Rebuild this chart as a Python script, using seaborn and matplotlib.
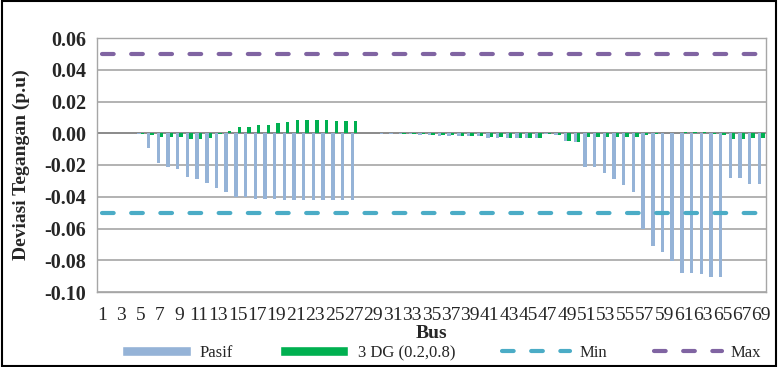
import numpy as np
import pandas as pd
import matplotlib
matplotlib.use('Agg')
from matplotlib import pyplot as plt
from matplotlib.patches import Patch, Rectangle
from matplotlib.lines import Line2D
import seaborn as sns

# data (deviation in p.u per bus)
buses = list(range(1, 70))
pasif = [
    0.0000, 0.0000, 0.0000, -0.0001, -0.0007, -0.0095, -0.0188, -0.0212, -0.0224, -0.0275,
    -0.0286, -0.0313, -0.0343, -0.0370, -0.0400, -0.0402, -0.0413, -0.0415, -0.0417, -0.0419,
    -0.0421, -0.0421, -0.0423, -0.0423, -0.0423, -0.0423, -0.0423, -0.0001, -0.0001, -0.0002,
    -0.0002, -0.0003, -0.0007, -0.0009, -0.0010, -0.0016, -0.0017, -0.0018, -0.0018, -0.0019,
    -0.0028, -0.0030, -0.0031, -0.0031, -0.0032, -0.0032, -0.0002, -0.0013, -0.0047, -0.0053,
    -0.0212, -0.0212, -0.0250, -0.0286, -0.0328, -0.0370, -0.0600, -0.0709, -0.0751, -0.0802,
    -0.0878, -0.0882, -0.0887, -0.0904, -0.0908, -0.0284, -0.0284, -0.0317, -0.0317,
]
dg3 = [
    0.0000, 0.0000, 0.0000, 0.0000, -0.0002, -0.0013, -0.0021, -0.0025, -0.0025, -0.0036,
    -0.0037, -0.0031, -0.0007, 0.0013, 0.0038, 0.0042, 0.0052, 0.0053, 0.0063, 0.0072,
    0.0084, 0.0084, 0.0083, 0.0082, 0.0080, 0.0080, 0.0080, 0.0000, 0.0000, -0.0001,
    -0.0001, -0.0002, -0.0005, -0.0007, -0.0008, -0.0013, -0.0014, -0.0015, -0.0015, -0.0016,
    -0.0024, -0.0026, -0.0027, -0.0027, -0.0028, -0.0028, -0.0002, -0.0012, -0.0050, -0.0057,
    -0.0025, -0.0025, -0.0025, -0.0025, -0.0025, -0.0021, -0.0011, -0.0006, -0.0001, 0.0002,
    0.0005, 0.0007, 0.0005, -0.0004, -0.0011, -0.0036, -0.0036, -0.0031, -0.0031,
]
v_min = -0.05
v_max = 0.05
y_ticks = [0.06, 0.04, 0.02, 0.00, -0.02, -0.04, -0.06, -0.08, -0.10]
x_labels = [str(b) for b in buses[::2]]

c_pasif = '#95B3D7'
c_dg = '#00B050'
c_min = '#4BACC6'
c_max = '#8064A2'
c_grid = '#a6a6a6'

sns.set_style('white')
plt.rcParams['font.family'] = ['Liberation Serif', 'DejaVu Serif']

df = pd.DataFrame({
    'Bus': buses * 2,
    'Deviasi': pasif + dg3,
    'Kasus': ['Pasif'] * len(buses) + ['3 DG (0.2,0.8)'] * len(buses),
})

fig, ax = plt.subplots(figsize=(7.78, 3.67), dpi=100)
fig.subplots_adjust(left=97 / 778, right=766 / 778, top=1 - 38 / 367, bottom=1 - 292 / 367)

sns.barplot(data=df, x='Bus', y='Deviasi', hue='Kasus', palette=[c_pasif, c_dg],
            width=0.7, gap=0, saturation=1, errorbar=None, linewidth=0,
            legend=False, ax=ax, zorder=3)

# batas tegangan
pos = np.arange(len(buses))
sns.lineplot(x=pos, y=[v_min] * len(buses), color=c_min, lw=3,
             linestyle=(0, (2.8, 4.2)), dash_capstyle='round', ax=ax, zorder=4)
sns.lineplot(x=pos, y=[v_max] * len(buses), color=c_max, lw=3,
             linestyle=(0, (2.8, 4.2)), dash_capstyle='round', ax=ax, zorder=4)

ax.set_xlim(-0.5, len(buses) - 0.5)
ax.set_ylim(-0.10, 0.06)
ax.set_yticks(y_ticks)
ax.set_yticklabels([f'{v:.2f}' for v in y_ticks], fontweight='bold', fontsize=14.5)
ax.set_xticks(pos[::2])
ax.set_xticklabels(x_labels, fontsize=14)
ax.tick_params(axis='x', length=0, pad=11)
ax.tick_params(axis='y', length=4, width=1, color=c_grid, pad=4)

ax.yaxis.grid(True, color=c_grid, lw=1.2)
ax.set_axisbelow(True)
ax.axhline(0, color='#8c8c8c', lw=1.4, zorder=2)
for s in ax.spines.values():
    s.set_visible(True)
    s.set_color(c_grid)
    s.set_linewidth(1)

ax.set_ylabel('Deviasi Tegangan (p.u)', fontweight='bold', fontsize=14)
ax.yaxis.set_label_coords(-0.1, 0.5)
ax.set_xlabel('Bus', fontweight='bold', fontsize=14)
ax.xaxis.set_label_coords(0.5, -0.13)

handles = [
    Patch(facecolor=c_pasif),
    Patch(facecolor=c_dg),
    Line2D([], [], color=c_min, lw=3, linestyle=(0, (2.8, 4.2)), dash_capstyle='round'),
    Line2D([], [], color=c_max, lw=3, linestyle=(0, (2.8, 4.2)), dash_capstyle='round'),
]
labels = ['Pasif', '3 DG (0.2,0.8)', 'Min', 'Max']
fig.legend(handles, labels, ncol=4, loc='center', bbox_to_anchor=(442 / 778, 1 - 353 / 367),
           frameon=False, fontsize=12, handlelength=4.1, handleheight=0.6,
           handletextpad=0.55, columnspacing=2.8, borderaxespad=0, borderpad=0)

# bingkai chart
fig.patches.append(Rectangle((0.003, 0.003), 0.994, 0.994, transform=fig.transFigure,
                             fill=False, edgecolor='black', lw=1.5))

fig.savefig('out.png', dpi=100)
